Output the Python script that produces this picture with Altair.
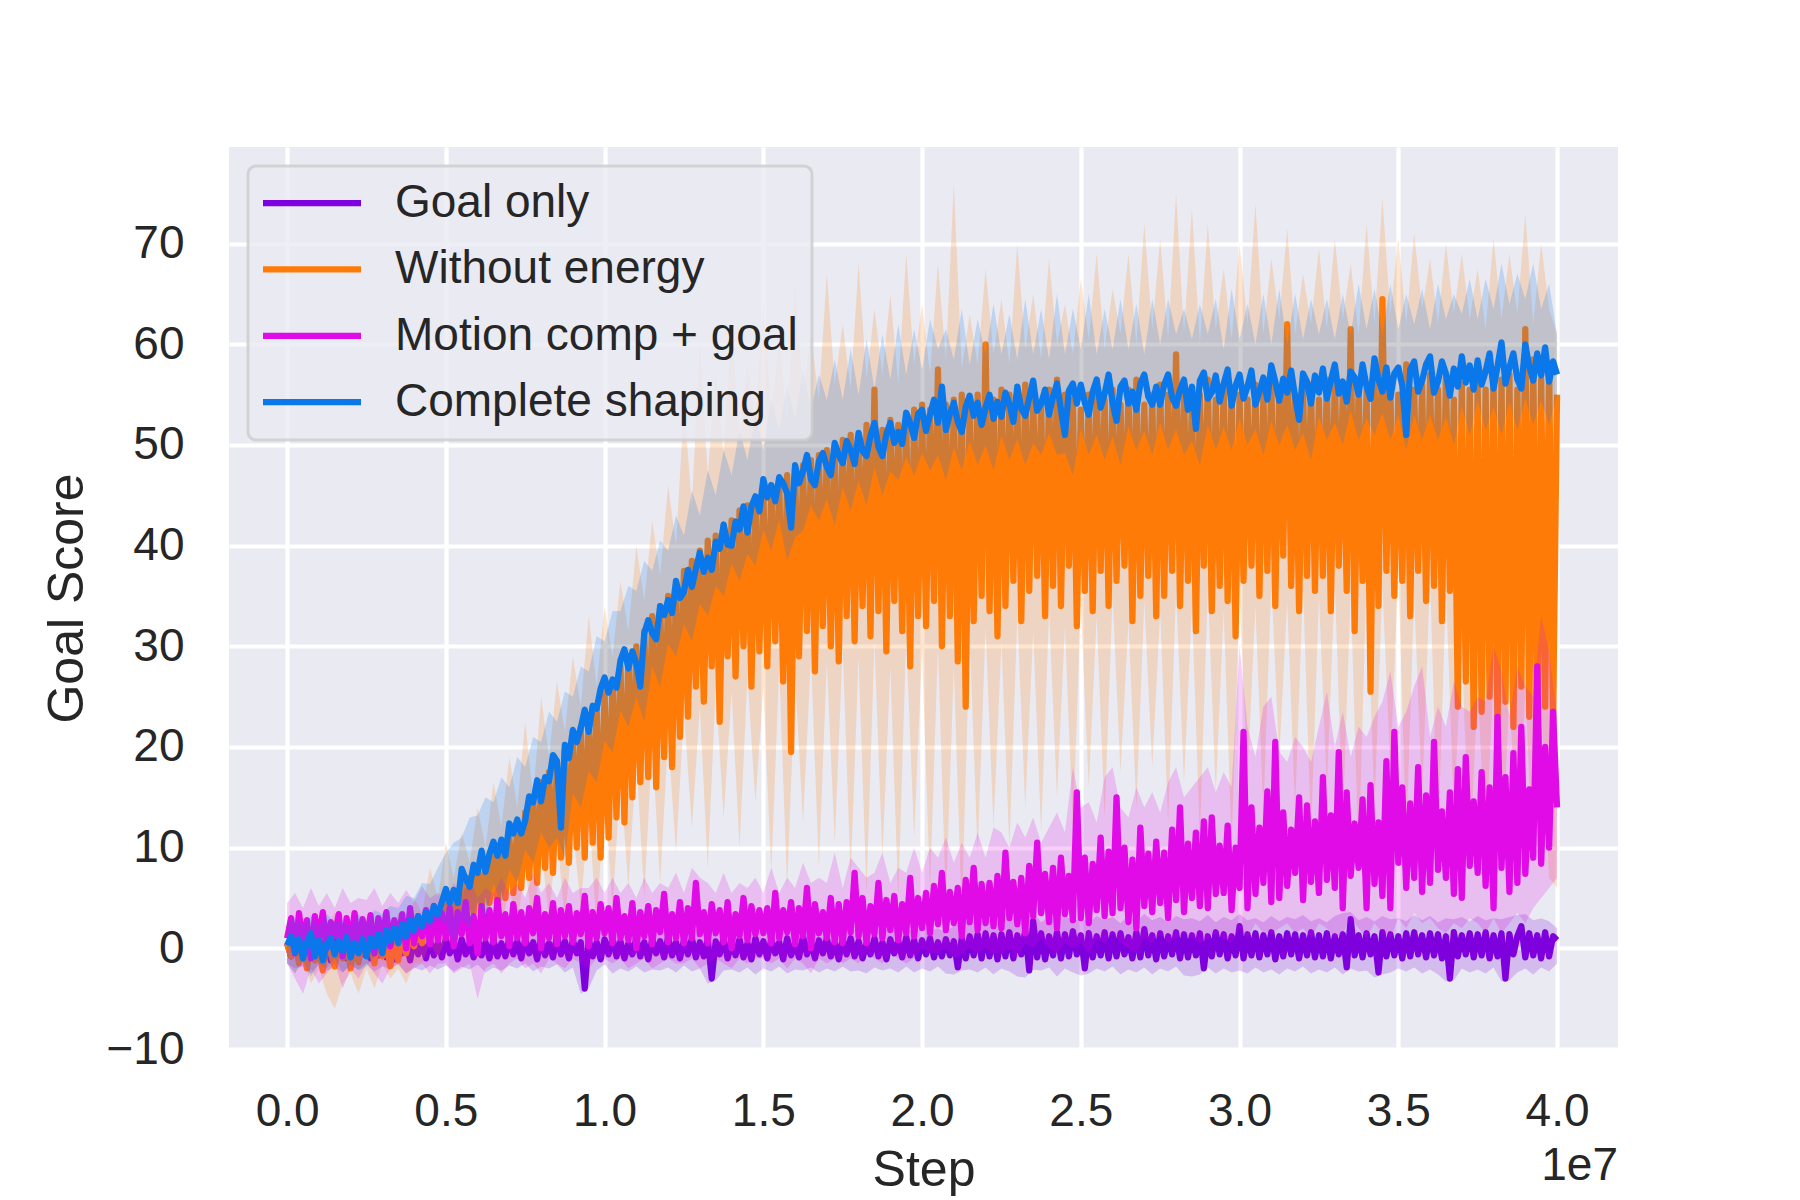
import altair as alt
import pandas as pd

SERIES = ["Goal only", "Without energy", "Motion comp + goal", "Complete shaping"]
COLORS = ["#7f00de", "#ff7b08", "#e00ce8", "#0a78ea"]

# logged every 125k env steps (mean curves) and every 250k (confidence bands)
STEPS = [i * 125000 for i in range(321)]
BAND_STEPS = [j * 250000 for j in range(161)]

GOAL_ONLY = [
    0.5, -0.8, 1.4, -0.5, 0.8, -1.0, 0.3, -0.9, 1.0, -0.6, 0.6, -1.2, 0.9, -0.4, 1.1, -1.0, 0.5, -0.8, 1.2, -0.6,
    0.7, -1.0, 0.8, -0.7, 1.1, -0.9, 0.4, -1.1, 0.9, -0.5, 0.7, -1.2, 1.0, -0.6, 0.5, -1.0, 0.8, -0.7, 0.6, -0.9,
    1.0, -0.5, 0.7, -1.1, 0.9, -0.6, 0.5, -0.9, 1.1, -0.7, 0.6, -1.0, 0.8, -0.8, 0.5, -0.8, 1.0, -0.6, 0.7, -1.0,
    0.9, -0.5, 0.6, -1.1, 1.0, -0.7, 0.5, -0.9, 1.2, -0.6, 0.7, -1.0, 0.8, -0.5, 0.6, -4.0, 0.9, -0.8, 0.6, -1.1,
    0.9, -0.6, 1.0, -0.8, 0.7, -1.0, 0.5, -0.6, 1.0, -0.8, 0.6, -1.1, 0.9, -0.5, 0.7, -0.9, 1.1, -0.7, 0.6, -1.0,
    0.8, -0.6, 1.0, -0.9, 0.6, -0.8, 0.9, -3.0, 0.7, -0.6, 1.0, -1.0, 0.6, -0.7, 0.9, -0.9, 0.5, -1.1, 1.0, -0.6,
    0.7, -1.0, 0.9, -0.5, 0.6, -1.1, 1.0, -0.7, 0.5, -0.9, 1.2, -0.6, 0.7, -1.0, 0.8, -0.5, 1.0, -0.8, 0.6, -1.1,
    0.9, -0.6, 1.0, -0.8, 0.7, -1.0, 0.5, -0.6, 1.0, -0.8, 0.6, -1.1, 0.9, -0.5, 0.7, -0.9, 1.1, -0.7, 0.8, -1.0,
    0.8, -0.6, 1.0, -0.9, 0.6, -0.8, 0.9, -0.7, 0.7, -1.9, 1.0, -1.0, 1.2, -0.7, 1.4, -1.0, 1.5, -0.8, 1.3, -1.1,
    1.4, -0.8, 1.6, -1.0, 1.3, -0.6, 1.8, -2.2, 2.7, -0.9, 1.5, -1.1, 1.2, -0.7, 1.6, -1.0, 1.4, -0.8, 1.7, -0.6,
    1.3, -2.0, 1.5, -0.9, 1.2, -0.7, 1.6, -1.0, 1.4, -0.8, 1.5, -0.6, 1.1, -1.0, 1.6, -0.9, 1.9, -0.7, 1.3, -1.1,
    1.5, -0.8, 1.2, -0.6, 1.6, -1.0, 1.4, -0.9, 1.3, -0.7, 1.5, -2.0, 1.2, -0.8, 1.6, -0.6, 1.4, -1.0, 1.2, -0.7,
    2.2, -1.0, 1.4, -0.7, 1.5, -0.9, 1.3, -0.6, 1.6, -1.1, 1.2, -0.8, 1.5, -0.6, 1.4, -1.0, 1.3, -0.7, 1.6, -0.9,
    1.3, -0.8, 1.5, -1.0, 1.2, -0.6, 1.4, -1.9, 2.9, -0.7, 1.3, -0.9, 1.5, -0.6, 1.2, -2.4, 1.6, -0.8, 1.4, -0.7,
    1.2, -1.0, 1.5, -0.8, 1.6, -0.6, 1.3, -0.9, 1.5, -0.7, 1.4, -1.0, 1.2, -3.0, 1.6, -0.8, 1.3, -0.6, 1.5, -0.9,
    1.4, -0.7, 1.6, -1.0, 1.3, -0.8, 1.5, -3.0, 1.4, -0.6, 1.2, 2.2, -0.9, 1.5, -0.7, 1.3, -1.0, 1.6, -0.8, 1.2,
    0.8,
]
GOAL_ONLY_HI = [
    2.0, 1.6, 2.2, 1.5, 2.0, 1.7, 2.3, 1.6, 2.0, 1.5,
    2.2, 1.7, 2.0, 1.6, 2.4, 1.8, 2.1, 1.5, 2.3, 1.7,
    2.0, 1.6, 2.2, 1.8, 2.0, 1.5, 2.3, 1.7, 2.1, 1.6,
    2.0, 1.8, 2.2, 1.5, 2.4, 1.7, 2.0, 1.6, 2.3, 1.8,
    2.2, 1.6, 2.0, 1.7, 2.3, 1.5, 2.1, 1.8, 2.0, 1.6,
    2.2, 1.7, 2.0, 1.6, 2.3, 1.8, 2.1, 1.5, 2.2, 1.7,
    2.0, 1.6, 2.3, 1.7, 2.1, 1.8, 2.0, 1.5, 2.2, 1.7,
    2.0, 1.6, 2.2, 1.8, 2.1, 1.5, 2.3, 1.7, 2.0, 1.6,
    2.2, 1.8, 2.0, 1.6, 2.3, 2.5, 2.8, 2.4, 3.0, 2.6,
    3.2, 2.7, 3.4, 2.9, 3.6, 2.6, 3.1, 2.8, 3.3, 2.7,
    3.0, 2.6, 3.2, 2.8, 3.1, 2.5, 3.3, 2.7, 3.4, 2.8,
    3.1, 2.6, 3.2, 2.9, 3.0, 2.7, 3.3, 2.6, 3.1, 2.8,
    3.4, 2.8, 3.0, 2.6, 3.2, 2.7, 3.1, 2.9, 3.3, 2.7,
    3.0, 2.6, 3.2, 3.5, 3.6, 2.8, 3.1, 2.7, 3.2, 2.9,
    3.0, 2.7, 3.3, 2.8, 3.2, 2.6, 3.0, 2.9, 3.1, 2.7,
    3.2, 2.8, 3.0, 2.9, 3.1, 3.3, 3.4, 2.8, 3.0, 2.7,
    2.0,
]
GOAL_ONLY_LO = [
    -1.5, -2.0, -1.8, -2.5, -1.6, -2.2, -1.9, -2.4, -1.7, -2.1,
    -1.5, -2.3, -1.8, -2.0, -1.6, -2.5, -1.9, -2.2, -1.7, -2.1,
    -1.7, -2.3, -1.8, -2.1, -1.6, -2.4, -1.9, -2.2, -1.7, -2.0,
    -1.5, -2.3, -1.8, -2.0, -1.6, -2.4, -1.9, -4.5, -4.0, -2.2,
    -1.6, -2.5, -2.0, -2.3, -1.8, -2.4, -2.1, -2.2, -1.9, -2.4,
    -1.7, -2.3, -2.0, -3.5, -3.2, -2.2, -2.1, -2.4, -1.9, -2.6,
    -2.0, -2.3, -1.8, -2.5, -2.1, -2.2, -1.9, -2.4, -2.0, -2.3,
    -1.8, -2.3, -2.2, -2.5, -1.9, -2.2, -2.0, -2.4, -1.8, -2.4,
    -2.0, -2.3, -1.8, -2.5, -2.6, -2.2, -2.1, -2.4, -1.9, -2.6,
    -2.0, -2.3, -2.8, -2.9, -2.1, -2.2, -1.9, -2.8, -2.0, -2.4,
    -2.7, -2.5, -2.0, -2.3, -1.8, -2.6, -2.1, -2.4, -1.9, -2.6,
    -2.0, -2.3, -1.8, -2.7, -2.8, -2.6, -1.9, -2.5, -2.0, -2.4,
    -2.2, -2.5, -1.9, -2.4, -2.1, -2.6, -2.0, -2.3, -1.8, -2.5,
    -2.1, -2.4, -1.9, -2.6, -2.0, -2.3, -2.2, -2.9, -2.6, -2.4,
    -2.0, -2.3, -1.9, -2.5, -2.1, -2.6, -3.3, -3.2, -2.0, -2.4,
    -2.1, -2.5, -1.9, -3.3, -3.2, -2.4, -2.0, -2.6, -1.9, -2.3,
    -1.5,
]

WITHOUT_ENERGY = [
    0.5, -0.8, 1.0, -1.5, 0.3, -2.0, 0.8, -1.2, 0.0, -2.2, 1.2, -0.5, -1.8, 0.6, -1.0, 0.9, -2.0, 0.4, -1.4, 1.1,
    -0.6, 0.8, -1.5, 1.2, -0.8, 0.5, -1.8, 1.0, -1.2, 1.4, -0.5, 1.6, 0.2, 2.0, 0.5, 3.0, 1.0, 3.5, 1.5, 4.0,
    5.0, 2.0, 5.5, 2.5, 6.5, 3.0, 7.0, 3.5, 8.0, 4.0, 8.5, 4.5, 9.5, 4.0, 10.5, 5.0, 11.0, 5.5, 12.0, 6.0,
    13.5, 7.0, 15.0, 6.5, 16.5, 8.0, 17.5, 7.5, 18.5, 9.0, 20.0, 8.5, 21.0, 10.0, 22.0, 9.0, 23.0, 10.5, 24.0, 9.0,
    25.5, 11.0, 26.5, 13.0, 28.0, 12.5, 29.0, 15.0, 30.0, 16.5, 31.5, 17.0, 33.0, 16.0, 34.0, 19.0, 35.0, 18.0, 36.0, 21.0,
    37.5, 23.0, 38.5, 26.0, 39.5, 24.5, 40.5, 28.0, 41.0, 22.5, 42.0, 29.0, 42.5, 27.0, 43.5, 30.0, 44.0, 26.0, 44.5, 29.5,
    45.5, 28.0, 46.0, 30.5, 46.5, 26.5, 47.0, 19.5, 47.5, 29.0, 48.0, 31.5, 48.5, 27.5, 49.0, 32.0, 49.5, 30.0, 50.0, 28.5,
    50.5, 33.0, 51.0, 30.5, 50.5, 34.0, 52.0, 31.0, 55.5, 33.5, 51.5, 29.5, 52.5, 34.5, 52.0, 31.5, 53.0, 28.0, 53.5, 33.0,
    54.0, 32.0, 53.5, 34.5, 57.5, 30.0, 54.0, 33.0, 54.5, 28.5, 55.0, 24.0, 54.5, 32.5, 55.0, 35.0, 60.0, 33.5, 54.5, 31.0,
    55.5, 34.0, 55.0, 36.5, 54.5, 32.5, 56.0, 35.5, 55.0, 37.0, 54.0, 33.0, 55.5, 36.0, 56.5, 34.0, 55.0, 38.0, 54.5, 32.0,
    53.5, 35.5, 55.0, 33.5, 56.0, 37.5, 54.5, 34.0, 55.5, 36.5, 54.0, 38.0, 55.5, 32.5, 56.5, 35.0, 54.0, 37.0, 55.0, 33.0,
    56.0, 35.0, 55.0, 37.5, 59.0, 34.0, 55.5, 36.5, 54.5, 31.5, 55.0, 38.0, 56.5, 33.5, 54.5, 36.0, 56.0, 34.5, 55.5, 31.0,
    55.0, 36.5, 54.5, 38.0, 56.0, 35.0, 55.0, 37.5, 56.5, 34.0, 55.5, 39.0, 62.0, 36.0, 55.0, 33.5, 55.5, 37.0, 56.0, 35.5,
    54.5, 37.0, 56.5, 33.5, 57.0, 38.0, 55.0, 35.5, 61.5, 31.5, 56.0, 36.5, 55.5, 25.5, 56.5, 34.0, 64.5, 37.5, 55.5, 35.0,
    55.0, 36.5, 58.0, 33.0, 55.5, 37.5, 56.0, 34.5, 57.0, 36.0, 55.5, 32.5, 57.0, 35.5, 54.5, 24.0, 56.0, 26.5, 55.5, 22.0,
    56.0, 23.5, 55.5, 25.0, 57.0, 21.5, 56.5, 24.5, 57.0, 22.0, 55.5, 26.0, 61.5, 23.0, 58.5, 20.5, 56.5, 24.0, 58.0, 22.5,
    55.0,
]
WITHOUT_ENERGY_HI = [
    2.5, 1.5, 3.0, 1.0, 2.5, 2.0, 3.5, 1.0, 2.0, 0.5,
    3.0, 1.0, 2.5, 1.5, 3.5, 2.0, 5.0, 3.5, 8.0, 5.0,
    10.5, 7.0, 11.5, 8.5, 14.0, 10.0, 16.5, 12.0, 19.0, 14.0,
    22.5, 15.0, 25.0, 19.0, 26.5, 21.5, 29.0, 24.0, 33.0, 26.0,
    34.0, 29.0, 36.5, 31.5, 40.0, 34.5, 42.5, 37.0, 46.0, 40.0,
    54.0, 44.0, 60.0, 47.0, 57.0, 49.0, 62.0, 50.5, 58.0, 52.0,
    64.0, 53.0, 60.5, 52.0, 66.0, 55.0, 61.0, 54.5, 67.0, 56.0,
    62.0, 55.5, 68.0, 56.5, 63.5, 57.0, 65.0, 56.0, 69.0, 58.0,
    64.0, 57.0, 68.0, 58.5, 76.0, 57.5, 63.0, 58.0, 67.5, 59.0,
    64.5, 58.0, 70.0, 59.5, 65.0, 58.5, 68.5, 60.0, 64.0, 59.0,
    66.5, 60.5, 69.0, 59.5, 65.5, 61.0, 69.0, 60.0, 72.0, 61.5,
    70.5, 60.5, 75.0, 61.0, 73.5, 60.0, 72.0, 61.5, 67.5, 60.5,
    70.0, 62.0, 74.0, 61.0, 68.5, 62.5, 71.5, 61.0, 67.0, 62.0,
    69.5, 61.5, 70.5, 62.5, 68.0, 61.0, 72.0, 62.0, 74.5, 63.0,
    70.5, 62.0, 71.0, 63.5, 68.5, 62.0, 70.0, 63.0, 69.0, 62.5,
    67.5, 61.5, 70.5, 62.5, 69.0, 63.0, 73.0, 62.0, 70.0, 63.5,
    61.0,
]
WITHOUT_ENERGY_LO = [
    -1.5, -2.5, -1.0, -3.5, -2.0, -4.5, -6.0, -3.5, -2.5, -4.5,
    -2.0, -4.0, -1.5, -3.0, -2.0, -3.5, -1.5, -1.5, 0.5, -1.0,
    1.0, 0.0, 2.5, 1.0, 3.5, 1.5, 5.5, 2.0, 6.0, 2.5,
    8.0, 2.0, 10.0, 3.0, 11.5, 2.5, 12.0, 4.0, 14.0, 2.0,
    16.0, 4.0, 17.0, 6.0, 19.0, 5.0, 20.5, 6.5, 21.0, 9.5,
    23.5, 12.0, 24.0, 8.0, 26.0, 13.0, 25.5, 10.0, 27.0, 14.5,
    26.0, 7.5, 28.0, 6.0, 27.0, 12.5, 29.0, 8.0, 28.5, 10.5,
    30.0, 7.0, 29.0, 5.5, 30.5, 9.0, 28.0, 5.0, 31.0, 11.0,
    29.5, 6.0, 30.0, 4.5, 28.0, 3.5, 31.0, 9.5, 32.0, 12.0,
    30.5, 10.0, 33.0, 14.0, 31.5, 11.5, 33.5, 15.0, 32.0, 12.0,
    34.0, 16.0, 33.0, 13.0, 35.0, 17.5, 32.5, 14.0, 34.5, 18.0,
    33.5, 12.5, 35.5, 16.5, 34.0, 11.0, 36.0, 15.5, 33.5, 10.5,
    35.0, 17.0, 34.0, 13.5, 36.5, 19.0, 34.5, 14.0, 36.0, 11.5,
    35.0, 16.0, 36.5, 12.5, 35.5, 9.0, 37.0, 14.0, 36.0, 18.0,
    37.5, 11.0, 35.0, 15.0, 37.0, 10.0, 36.0, 13.5, 30.0, 8.5,
    26.0, 10.0, 27.0, 7.5, 25.5, 9.0, 26.0, 8.0, 24.0, 7.0,
    6.0,
]

MOTION_GOAL = [
    1.0, 3.0, -0.5, 3.5, 0.5, 2.8, -1.0, 3.2, 0.8, 3.6, 0.0, 2.6, 1.2, 3.4, -0.8, 3.0, 0.4, 3.5, 0.2, 2.9,
    0.6, 3.3, -0.5, 3.0, 0.8, 3.6, 0.2, 2.8, 1.0, 3.4, 0.0, 4.0, 0.5, 3.2, 1.2, 3.8, 0.4, 4.2, 0.8, 3.5,
    1.0, 4.0, 0.2, 3.6, 1.4, 4.6, 0.5, 3.2, -0.5, 4.2, 1.0, 3.8, 0.6, 4.8, 1.2, 3.4, 0.2, 4.4, 1.0, 3.6,
    0.5, 4.0, 1.5, 5.0, 0.0, 3.4, 1.0, 4.5, 0.4, 3.8, 1.2, 4.2, 0.6, 3.5, 1.4, 5.2, 0.2, 3.6, 1.0, 4.4,
    1.5, 4.0, 0.5, 5.0, 1.0, 3.2, 0.8, 4.5, 0.0, 3.6, 1.2, 4.2, 0.4, 3.8, 1.6, 5.4, 0.6, 3.4, 1.0, 4.6,
    0.5, 4.0, 1.0, 6.5, 1.4, 3.6, 0.5, 4.4, 1.5, 3.8, 0.6, 4.6, 0.0, 3.4, 1.2, 5.0, 0.8, 4.2, 1.4, 3.8,
    1.5, 4.0, 0.5, 5.5, 1.0, 3.8, 1.6, 4.6, 0.4, 4.0, 1.2, 6.0, 0.0, 4.4, 1.5, 3.6, 1.0, 5.0, 0.6, 4.4,
    0.5, 4.6, 1.6, 7.5, 1.2, 5.0, 0.5, 4.2, 1.4, 6.5, 1.0, 4.8, 1.8, 5.2, 0.8, 4.4, 1.5, 7.0, 1.2, 5.0,
    2.0, 5.5, 1.5, 6.2, 2.4, 7.5, 1.8, 5.6, 2.5, 6.0, 1.2, 6.8, 2.6, 8.0, 1.8, 6.4, 2.5, 6.5, 2.2, 7.2,
    2.0, 9.5, 3.0, 6.6, 2.4, 7.0, 1.5, 8.2, 3.2, 10.5, 3.5, 7.4, 2.6, 8.0, 2.0, 9.0, 3.4, 7.2, 2.8, 15.5,
    3.0, 9.0, 2.5, 8.4, 3.8, 11.0, 3.2, 9.6, 3.5, 15.0, 4.0, 10.0, 2.6, 8.8, 2.0, 12.0, 4.2, 9.4, 3.6, 10.6,
    4.5, 9.5, 3.0, 11.8, 4.8, 14.0, 3.6, 10.4, 5.0, 11.5, 4.2, 12.6, 4.0, 13.0, 5.4, 10.2, 5.5, 12.2, 3.8, 10.0,
    6.0, 21.5, 4.0, 14.0, 5.4, 12.0, 6.5, 15.6, 4.6, 20.5, 5.0, 13.5, 6.2, 11.8, 7.5, 15.0, 4.8, 14.2, 6.6, 12.6,
    5.5, 17.0, 6.8, 13.2, 6.0, 19.5, 4.0, 15.5, 7.2, 12.4, 8.0, 14.8, 4.0, 16.2, 6.4, 12.5, 5.2, 18.6, 4.0, 21.5,
    8.5, 16.0, 6.0, 14.4, 7.0, 18.0, 5.6, 15.2, 6.5, 20.5, 7.8, 13.6, 7.0, 15.5, 5.4, 17.8, 5.0, 19.0, 8.2, 14.6,
    7.5, 17.5, 6.2, 16.0, 4.0, 23.0, 8.0, 17.0, 5.6, 19.4, 6.5, 22.0, 7.4, 15.8, 9.0, 28.0, 8.4, 20.0, 10.0, 23.5,
    14.0,
]
MOTION_GOAL_HI = [
    4.5, 5.5, 4.0, 6.0, 4.2, 5.5, 4.0, 6.0, 4.5, 5.0,
    4.8, 6.0, 4.2, 5.5, 4.5, 5.8, 4.6, 6.2, 5.0, 5.5,
    5.0, 6.5, 5.2, 7.0, 5.0, 6.0, 5.4, 7.0, 5.5, 6.5,
    5.0, 7.5, 5.5, 6.5, 5.0, 7.0, 5.5, 6.0, 6.0, 7.0,
    5.5, 7.0, 5.5, 6.5, 5.0, 7.0, 5.5, 6.5, 6.0, 7.5,
    5.5, 8.0, 7.0, 6.5, 5.5, 7.5, 5.5, 6.5, 6.0, 7.0,
    5.5, 8.0, 5.5, 7.0, 6.0, 8.5, 6.5, 7.0, 6.5, 9.5,
    6.0, 9.0, 8.0, 7.0, 7.5, 9.5, 6.5, 8.0, 7.5, 10.0,
    7.5, 10.0, 9.0, 11.0, 8.5, 10.5, 9.0, 11.5, 9.0, 12.0,
    11.5, 10.0, 12.5, 11.0, 13.0, 10.5, 12.0, 13.5, 11.5, 18.0,
    14.0, 14.5, 12.5, 17.0, 18.0, 14.0, 13.0, 16.0, 14.0, 15.5,
    13.5, 16.5, 18.0, 15.0, 16.0, 17.0, 18.0, 15.5, 17.5, 16.0,
    30.0, 22.0, 19.0, 24.0, 25.0, 19.5, 18.5, 21.0, 20.0, 18.5,
    22.0, 25.5, 20.0, 23.5, 19.0, 22.0, 21.0, 23.0, 24.5, 27.5,
    22.0, 23.5, 26.0, 28.0, 21.0, 24.0, 22.0, 26.5, 24.0, 23.5,
    25.0, 24.5, 30.0, 27.5, 23.0, 28.0, 26.0, 25.0, 33.0, 29.5,
    23.0,
]
MOTION_GOAL_LO = [
    -1.5, -3.0, -4.5, -2.0, -3.5, -2.5, -1.5, -4.0, -2.0, -3.0,
    -1.5, -2.5, -3.5, -2.0, -1.5, -2.5, -2.0, -1.5, -2.5, -1.5,
    -1.5, -2.5, -2.0, -1.5, -5.0, -2.0, -1.5, -2.5, -1.5, -1.0,
    -2.0, -1.5, -2.5, -1.0, -1.5, -2.0, -1.0, -1.5, -2.0, -1.0,
    -1.0, -1.5, -1.0, -2.0, -1.5, -1.0, -2.0, -1.5, -1.0, -1.5,
    -1.5, -1.0, -2.0, -1.5, -1.0, -1.5, -2.0, -1.0, -1.5, -1.0,
    -1.0, -1.5, -1.0, -2.0, -1.0, -1.5, -2.5, -1.0, -1.5, -1.0,
    -1.5, -1.0, -1.5, -0.5, -1.0, -1.5, -0.5, -1.0, -1.5, -1.0,
    0.0, -0.5, -0.5, 0.0, -1.0, -0.5, 0.0, -0.5, 0.0, -0.5,
    -0.5, 0.0, -1.0, 0.5, 0.0, 1.0, 0.0, -0.5, 0.5, 0.0,
    0.5, -0.5, 1.0, 0.5, 1.5, 0.5, 0.0, -0.5, 1.0, 0.5,
    1.5, 0.5, 1.0, 1.5, 1.0, 0.5, 1.0, 1.5, 1.0, 0.5,
    2.0, 1.0, 2.5, 1.5, 1.5, 2.0, 2.5, 1.5, 2.0, 1.0,
    2.5, 2.0, 1.0, 1.5, 3.0, 2.0, 1.0, 2.5, 1.5, 1.0,
    3.0, 2.0, 3.5, 2.5, 3.0, 2.0, 1.5, 2.5, 2.0, 3.0,
    2.5, 1.5, 3.0, 1.5, 2.5, 3.5, 2.5, 4.0, 5.0, 6.0,
    7.0,
]

COMPLETE = [
    0.3, 1.2, -0.4, 0.9, -1.0, 0.6, 1.5, -0.8, 0.8, -1.2, 0.4, 1.0, -0.6, 0.7, -0.2, 1.1, -0.9, 0.5, -0.5, 0.9,
    -0.8, 1.0, 0.2, 1.4, -0.5, 1.8, 0.8, 2.0, 0.5, 2.4, 1.2, 2.8, 1.8, 3.2, 2.2, 3.6, 2.8, 4.2, 3.4, 4.6,
    5.9, 4.5, 5.8, 4.5, 7.9, 6.9, 6.1, 8.3, 7.5, 9.7, 7.6, 9.4, 10.6, 9.2, 10.8, 9.2, 12.4, 11.4, 12.8, 11.4,
    12.7, 15.1, 14.5, 16.7, 14.6, 17.0, 16.6, 19.2, 18.6, 12.0, 20.2, 18.9, 21.7, 20.5, 21.9, 23.7, 21.5, 24.1, 23.8, 25.8,
    26.9, 25.4, 26.7, 25.9, 28.6, 29.7, 27.8, 29.5, 28.3, 26.0, 31.3, 32.6, 31.3, 30.7, 34.0, 33.1, 34.6, 33.3, 36.5, 34.8,
    35.4, 37.6, 35.9, 37.7, 39.3, 37.4, 38.8, 37.6, 40.4, 39.7, 42.1, 40.1, 40.0, 42.4, 41.6, 43.9, 41.3, 43.9, 44.9, 43.4,
    46.6, 44.8, 46.0, 44.4, 46.8, 46.2, 45.2, 41.8, 48.0, 46.2, 47.4, 49.0, 46.6, 46.0, 48.4, 49.2, 47.8, 47.0, 50.2, 49.0,
    48.2, 50.4, 49.5, 48.1, 51.2, 49.4, 48.9, 50.9, 52.2, 49.8, 48.9, 51.1, 52.2, 50.2, 51.3, 50.1, 53.2, 52.2, 50.7, 53.1,
    53.5, 51.4, 53.0, 54.5, 52.2, 55.8, 51.5, 53.1, 54.2, 52.3, 51.3, 53.8, 54.9, 52.9, 54.2, 52.0, 53.7, 55.0, 52.6, 54.3,
    52.8, 55.2, 54.1, 52.3, 55.8, 53.6, 52.9, 54.7, 56.4, 53.4, 54.1, 55.5, 53.0, 54.8, 56.1, 53.5, 51.0, 55.4, 56.1, 54.1,
    56.0, 54.2, 53.0, 55.3, 56.5, 53.7, 55.1, 57.0, 54.2, 52.4, 55.8, 56.4, 54.1, 55.3, 53.5, 56.1, 57.0, 54.8, 54.0, 55.8,
    54.0, 56.0, 57.0, 54.7, 53.9, 55.5, 56.5, 53.5, 55.8, 51.6, 56.4, 57.2, 54.6, 55.2, 56.9, 54.3, 56.1, 57.5, 53.9, 55.9,
    57.0, 54.6, 55.8, 57.4, 54.0, 55.3, 56.7, 54.5, 57.9, 56.3, 54.4, 56.6, 55.2, 57.4, 54.8, 52.5, 57.1, 56.3, 54.1, 56.9,
    55.2, 57.6, 54.6, 56.4, 58.0, 55.1, 56.3, 54.3, 57.3, 56.7, 55.0, 58.0, 55.8, 54.6, 58.6, 56.5, 55.3, 57.7, 54.7, 57.1,
    57.7, 55.9, 51.0, 57.5, 58.3, 55.3, 56.4, 58.0, 58.8, 55.2, 56.3, 58.3, 57.1, 54.9, 57.6, 55.8, 58.8, 56.2, 57.9, 55.5,
    58.4, 56.0, 57.3, 59.1, 55.6, 57.8, 60.2, 56.1, 57.7, 59.1, 56.5, 55.6, 60.0, 57.8, 56.4, 59.1, 56.9, 59.7, 56.3, 58.3,
    57.0,
]
COMPLETE_HI = [
    2.5, 3.0, 2.4, 3.2, 2.2, 3.4, 2.6, 2.8, 2.2, 3.4,
    2.6, 3.8, 3.4, 4.2, 4.0, 5.2, 5.0, 6.5, 6.4, 8.0,
    9.5, 10.5, 11.0, 13.0, 13.2, 15.0, 14.5, 17.0, 16.0, 19.0,
    18.0, 21.0, 20.5, 23.5, 22.5, 25.5, 25.0, 28.0, 27.5, 31.0,
    30.5, 33.5, 33.5, 36.0, 35.5, 38.5, 37.5, 40.5, 39.5, 43.0,
    41.0, 45.5, 43.0, 47.5, 45.0, 49.5, 47.0, 51.5, 48.5, 53.0,
    49.5, 54.5, 51.5, 56.0, 52.5, 57.5, 53.5, 57.0, 54.5, 58.5,
    54.5, 59.5, 55.0, 60.5, 55.5, 61.0, 56.5, 62.0, 57.0, 61.5,
    57.5, 62.5, 59.5, 61.5, 58.5, 63.5, 58.0, 62.5, 59.0, 64.0,
    59.0, 63.0, 58.5, 64.5, 59.0, 63.5, 58.5, 65.0, 59.0, 63.5,
    59.5, 65.0, 59.0, 63.5, 59.5, 64.5, 59.5, 64.0, 59.0, 64.5,
    60.0, 64.5, 61.0, 63.5, 60.5, 64.0, 61.0, 64.5, 59.5, 65.5,
    60.5, 64.0, 60.0, 65.0, 60.0, 65.5, 60.0, 65.0, 60.5, 64.5,
    61.0, 64.5, 60.5, 65.0, 61.0, 66.0, 61.5, 65.5, 61.0, 66.0,
    61.5, 65.0, 62.0, 65.5, 61.5, 66.0, 62.5, 65.0, 63.0, 66.5,
    62.5, 66.5, 63.5, 68.0, 64.0, 67.0, 64.5, 68.0, 63.5, 66.0,
    61.0,
]
COMPLETE_LO = [
    -1.5, -2.5, -1.2, -2.8, -1.5, -2.0, -1.0, -2.4, -1.6, -2.2,
    -1.8, -0.8, -0.5, 0.2, 0.5, 1.0, 1.2, 2.0, 2.0, 2.8,
    2.5, 0.5, 3.0, 2.0, 4.6, 3.0, 6.4, 4.5, 7.8, 6.5,
    9.8, 8.5, 11.5, 10.0, 11.0, 9.0, 15.4, 14.0, 17.6, 16.5,
    20.6, 19.5, 23.6, 22.0, 25.0, 22.5, 28.0, 26.0, 30.2, 29.0,
    32.2, 30.5, 34.2, 33.0, 36.0, 35.0, 38.2, 36.5, 39.2, 38.0,
    41.6, 39.5, 42.6, 38.5, 40.8, 41.5, 44.0, 42.5, 44.6, 42.0,
    45.8, 43.5, 46.4, 44.0, 47.8, 45.0, 47.4, 46.5, 48.8, 47.0,
    49.2, 47.5, 49.0, 46.5, 49.8, 47.5, 50.4, 48.0, 50.0, 47.5,
    51.0, 48.5, 50.6, 48.0, 50.2, 49.0, 51.2, 49.0, 49.2, 47.0,
    51.6, 49.0, 51.0, 48.5, 50.8, 48.0, 51.8, 49.5, 51.4, 49.0,
    52.2, 49.5, 51.6, 49.0, 50.4, 48.0, 52.0, 49.5, 51.8, 49.5,
    52.6, 50.0, 51.6, 49.0, 52.4, 50.0, 52.0, 49.5, 51.2, 48.5,
    52.8, 50.5, 52.2, 50.0, 53.4, 50.5, 52.6, 51.0, 53.2, 50.5,
    53.0, 49.5, 53.0, 50.5, 53.0, 50.5, 52.8, 50.0, 53.8, 51.0,
    54.4, 51.5, 53.8, 51.0, 54.2, 51.5, 54.6, 52.0, 54.4, 52.0,
    55.0,
]

LINE_VALUES = {
    "Goal only": GOAL_ONLY,
    "Without energy": WITHOUT_ENERGY,
    "Motion comp + goal": MOTION_GOAL,
    "Complete shaping": COMPLETE,
}
BAND_VALUES = {
    "Goal only": (GOAL_ONLY_LO, GOAL_ONLY_HI),
    "Without energy": (WITHOUT_ENERGY_LO, WITHOUT_ENERGY_HI),
    "Motion comp + goal": (MOTION_GOAL_LO, MOTION_GOAL_HI),
    "Complete shaping": (COMPLETE_LO, COMPLETE_HI),
}

for name, vals in LINE_VALUES.items():
    assert len(vals) == len(STEPS), (name, len(vals))
for name, (lo, hi) in BAND_VALUES.items():
    assert len(lo) == len(BAND_STEPS) and len(hi) == len(BAND_STEPS), (name, len(lo), len(hi))

FONT = "Liberation Sans"
TEXT_COLOR = "#262626"
W, H = 1389, 902

x_scale = alt.Scale(domain=[-1.83e6, 4.192e7], nice=False, zero=False)
y_scale = alt.Scale(domain=[-10, 79.6], nice=False, zero=False)
x_axis = alt.Axis(
    values=[0, 5e6, 1e7, 1.5e7, 2e7, 2.5e7, 3e7, 3.5e7, 4e7],
    labelExpr="format(datum.value / 10000000, '.1f')",
    title="Step", labelPadding=40, titleX=W / 2, titleY=136,
    titleBaseline="alphabetic", titleAlign="center",
)
y_axis = alt.Axis(
    values=[-10, 0, 10, 20, 30, 40, 50, 60, 70],
    title="Goal Score", labelPadding=45, titleX=-147, titleY=H / 2,
    titleBaseline="alphabetic", titleAlign="center", titleAngle=270,
)
color_scale = alt.Scale(domain=SERIES, range=COLORS)
legend = alt.Legend(
    title=None, orient="top-left", offset=19,
    symbolType="M-3.0625,0H3.0625", symbolSize=1024, symbolStrokeWidth=6.25,
    symbolOffset=27, labelOffset=60, rowPadding=20.4, padding=14,
    labelFontSize=46, labelFont=FONT, labelColor=TEXT_COLOR, labelLimit=2000,
    fillColor="rgba(234,234,242,0.8)", strokeColor="rgba(204,204,204,0.8)",
    cornerRadius=8,
)

layers = []
for name, col in zip(SERIES, COLORS):
    df_line = pd.DataFrame({"step": STEPS, "value": LINE_VALUES[name], "series": name})
    lo, hi = BAND_VALUES[name]
    df_band = pd.DataFrame({"step": BAND_STEPS, "lo": lo, "hi": hi})
    line = alt.Chart(df_line).mark_line(strokeWidth=6.25, strokeJoin="round").encode(
        x=alt.X("step:Q", scale=x_scale, axis=x_axis),
        y=alt.Y("value:Q", scale=y_scale, axis=y_axis),
        color=alt.Color("series:N", scale=color_scale, legend=legend),
    )
    band = alt.Chart(df_band).mark_area(opacity=0.2, color=col).encode(
        x=alt.X("step:Q", scale=x_scale, axis=x_axis),
        y=alt.Y("lo:Q", scale=y_scale, axis=y_axis),
        y2="hi:Q",
    )
    layers += [line, band]

offset_text = alt.Chart(pd.DataFrame({"t": ["1e7"]})).mark_text(
    align="right", baseline="alphabetic", fontSize=46, font=FONT, color=TEXT_COLOR
).encode(text="t:N", x=alt.value(W), y=alt.value(1033))
layers.append(offset_text)

chart = alt.layer(*layers).properties(
    width=W, height=H,
    autosize=alt.AutoSizeParams(type="none"),
    padding={"left": 221, "top": 139, "right": 150, "bottom": 150},
    background="white",
).configure(font=FONT).configure_view(
    fill="#EAEAF2", strokeWidth=0
).configure_axis(
    grid=True, gridColor="white", gridWidth=4.2, domain=False, ticks=False, tickSize=0,
    labelFontSize=46, labelColor=TEXT_COLOR, labelFont=FONT,
    titleFontSize=50, titleColor=TEXT_COLOR, titleFont=FONT, titleFontWeight="normal",
).configure_legend(strokeWidth=3)

chart.save("out.html", embed_options={"renderer": "svg", "actions": False})
